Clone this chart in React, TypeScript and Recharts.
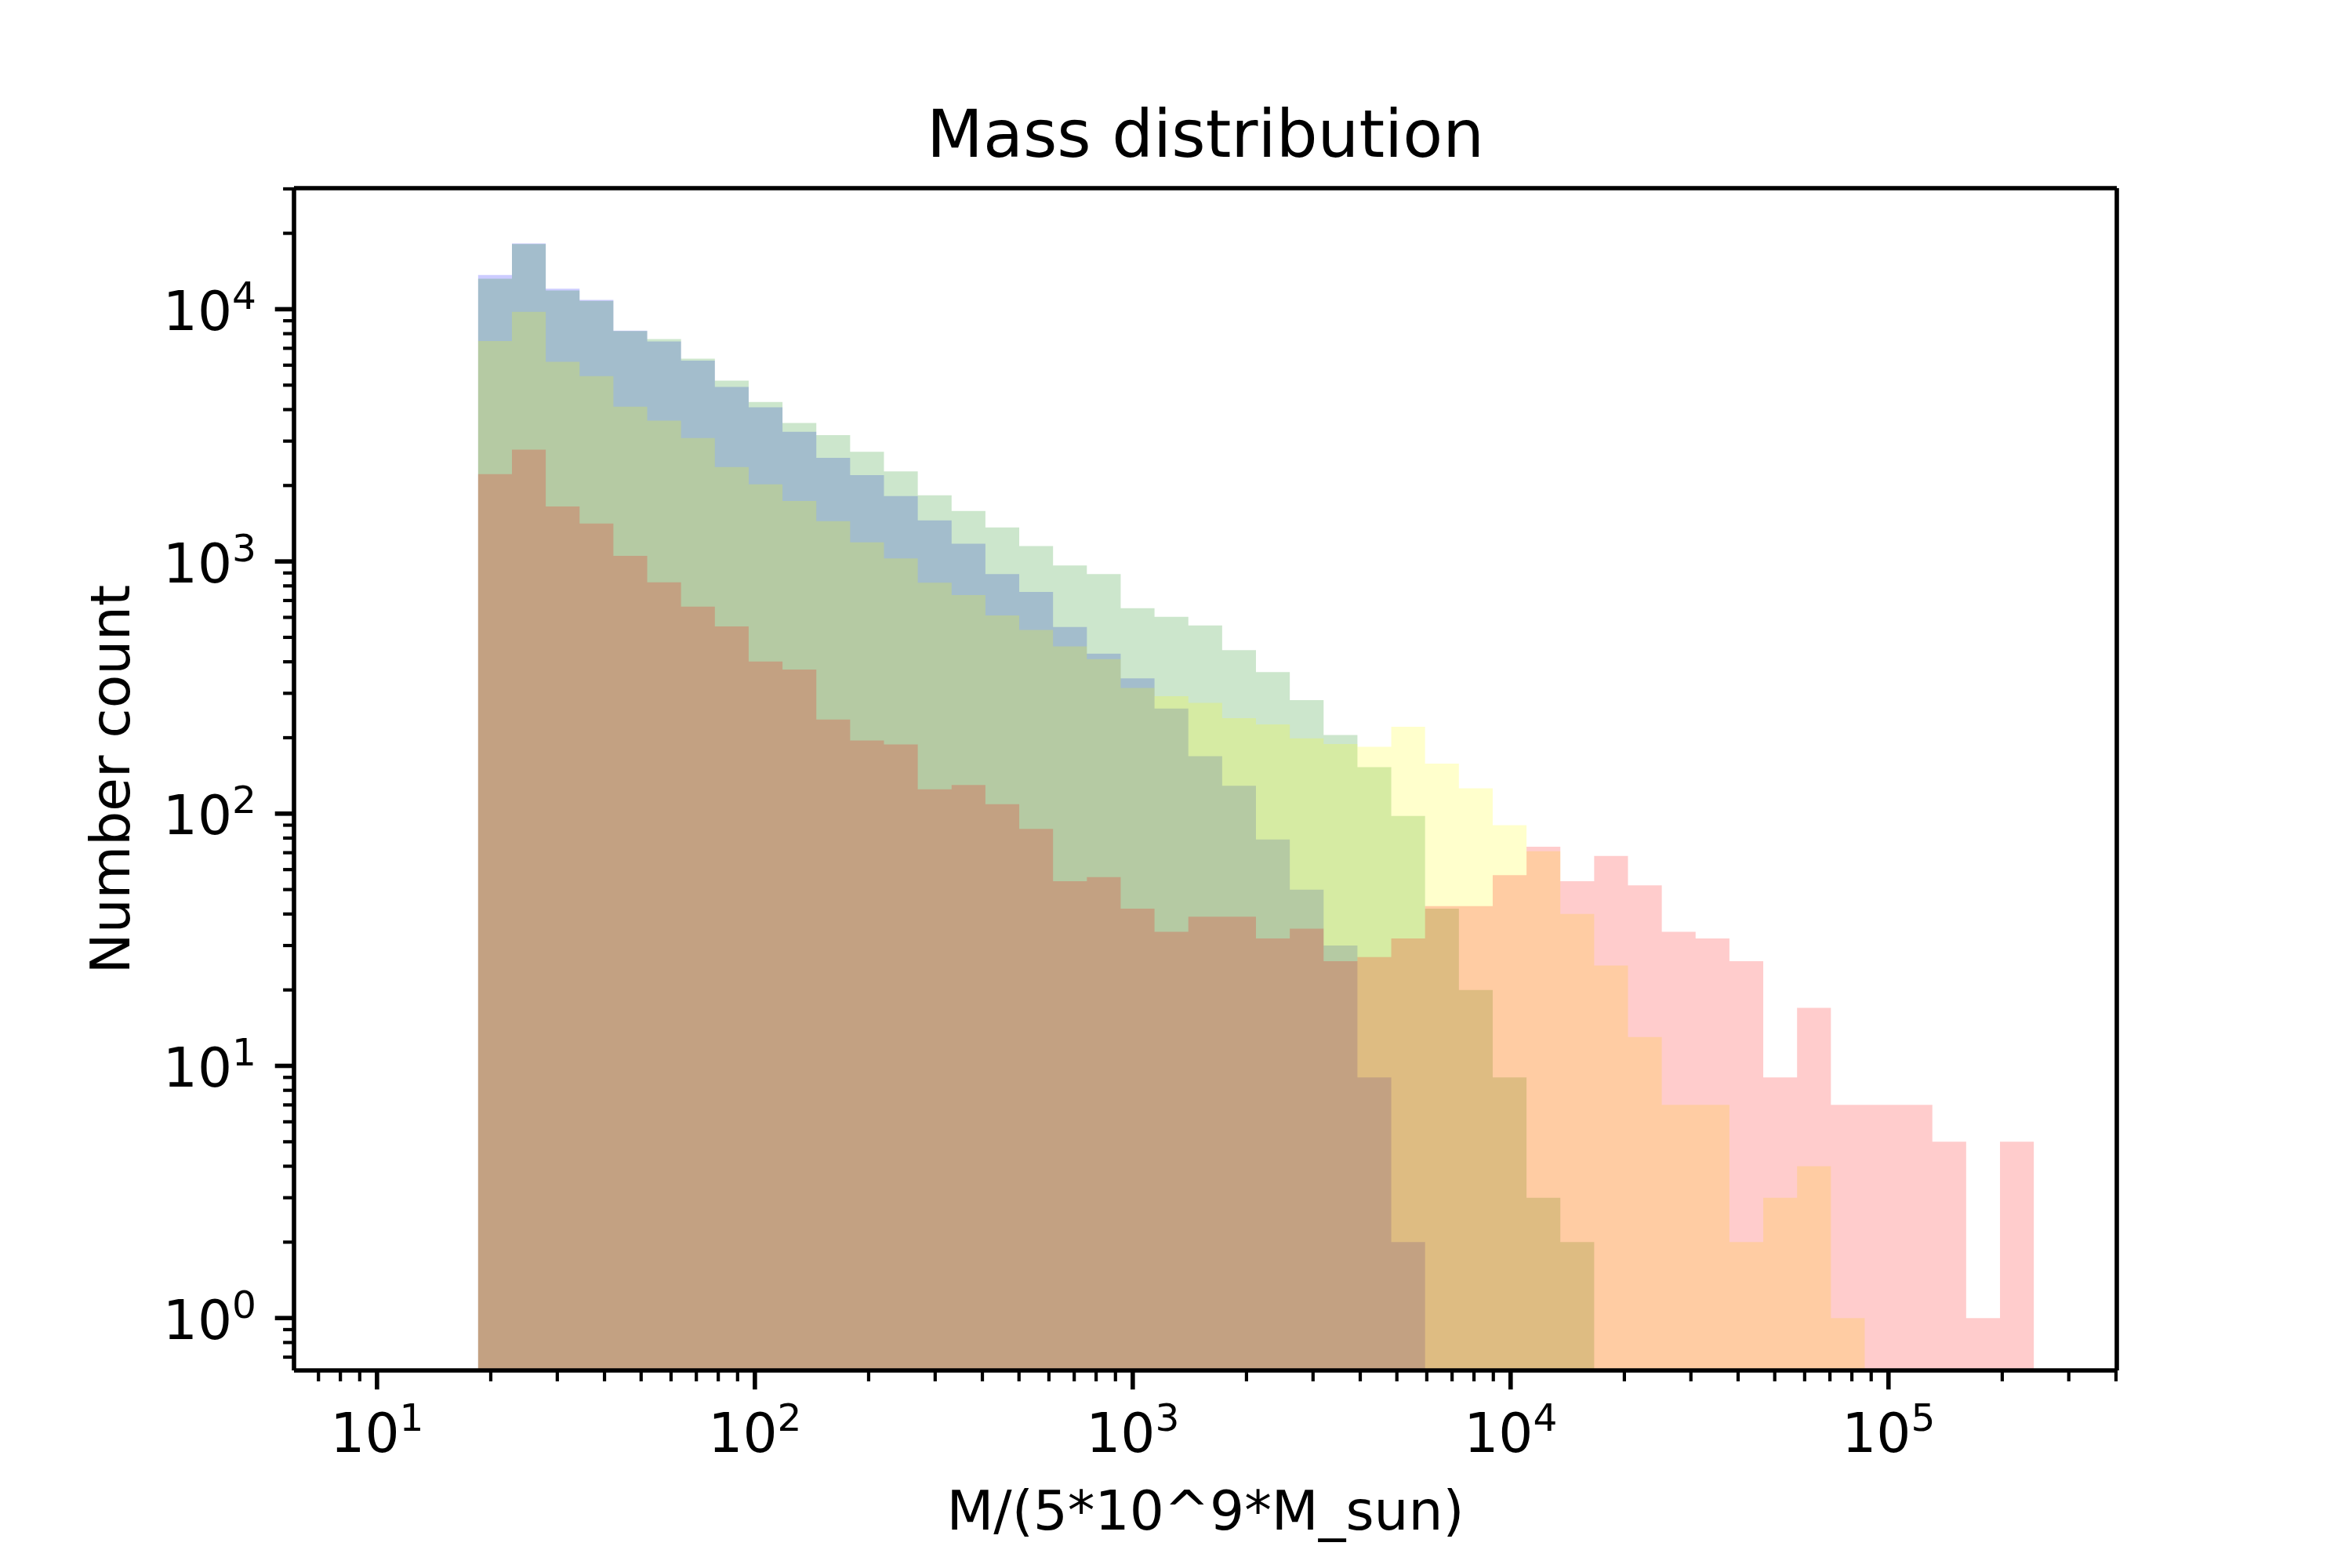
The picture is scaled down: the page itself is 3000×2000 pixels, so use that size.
import { ComposedChart, Area, XAxis, YAxis, ReferenceLine } from "recharts";

// histogram bins are evenly spaced in log10(M)
const BIN_LOG_START = 1.2676;
const BIN_LOG_WIDTH = 0.0895;

// counts per bin (46 bins)
const BLUE = [
  13680, 18240, 12050, 10900, 8230, 7450, 6250, 4920, 4083, 3266, 2576, 2198,
  1816, 1455, 1175, 891, 757, 550, 431, 344, 261, 169, 129, 79, 50, 30, 9, 2,
  0, 0, 0, 0, 0, 0, 0, 0, 0, 0, 0, 0, 0, 0, 0, 0, 0, 0,
];
const GREEN = [
  13210, 18150, 11860, 10790, 8200, 7620, 6370, 5212, 4285, 3540, 3170, 2723,
  2275, 1828, 1585, 1365, 1151, 964, 891, 652, 603, 557, 445, 364, 282, 205,
  153, 98, 42, 20, 9, 3, 2, 0, 0, 0, 0, 0, 0, 0, 0, 0, 0, 0, 0, 0,
];
const YELLOW = [
  7480, 9770, 6190, 5430, 4110, 3614, 3083, 2366, 2023, 1738, 1445, 1191, 1028,
  824, 736, 611, 535, 460, 410, 315, 292, 275, 239, 226, 199, 189, 184, 221,
  158, 126, 90, 71, 40, 25, 13, 7, 7, 2, 3, 4, 1, 0, 0, 0, 0, 0,
];
const RED = [
  2218, 2773, 1652, 1413, 1052, 826, 662, 553, 401, 373, 236, 195, 188, 125,
  130, 109, 87, 54, 56, 42, 34, 39, 39, 32, 35, 26, 27, 32, 43, 43, 57, 74, 54,
  68, 52, 34, 32, 26, 9, 17, 7, 7, 7, 5, 1, 5,
];

const SERIES = [
  { key: "blue", color: "#0000ff", counts: BLUE },
  { key: "green", color: "#008000", counts: GREEN },
  { key: "yellow", color: "#ffff00", counts: YELLOW },
  { key: "red", color: "#ff0000", counts: RED },
];

const X_DOMAIN = [6.03, 4.02e5];
const Y_DOMAIN = [0.62, 30200];

const FONT = "DejaVu Sans";
const TITLE = "Mass distribution";
const X_LABEL = "M/(5*10^9*M_sun)";
const Y_LABEL = "Number count";

// log ticks: 1..9 times each power of ten inside the domain
const logTicks = ([lo, hi]: number[]) => {
  const out: number[] = [];
  for (let e = -2; e <= 7; e++) {
    for (let m = 1; m <= 9; m++) {
      const v = m * 10 ** e;
      if (v >= lo && v <= hi) out.push(v);
    }
  }
  return out;
};

const edges = Array.from(
  { length: BLUE.length + 1 },
  (_, i) => 10 ** (BIN_LOG_START + i * BIN_LOG_WIDTH)
);

// step points at bin edges; the last edge closes the final bar
const rows = edges.map((x, i) => {
  const row: Record<string, number | null> = { x };
  SERIES.forEach(({ key, counts }) => {
    const v = counts[i] ?? 0;
    const prev = i > 0 ? counts[i - 1] : 0;
    row[key] = v > 0 ? v : prev > 0 ? prev : null;
  });
  return row;
});

const isMajor = (v: number) => {
  const l = Math.log10(v);
  return Math.abs(l - Math.round(l)) < 1e-9;
};

const Power = ({ exp }: { exp: number }) => (
  <>
    10
    <tspan dy={-27} fontSize={48.6}>
      {exp}
    </tspan>
  </>
);

const XTick = ({ x, y, payload }: any) => {
  const v = payload.value;
  const major = isMajor(v);
  return (
    <g>
      <line
        x1={x}
        x2={x}
        y1={y}
        y2={y + (major ? 24.3 : 13.9)}
        stroke="#000"
        strokeWidth={major ? 5.6 : 4.2}
      />
      {major && (
        <text
          x={x}
          y={y + 104}
          textAnchor="middle"
          fontFamily={FONT}
          fontSize={69.4}
          fill="#000"
        >
          <Power exp={Math.round(Math.log10(v))} />
        </text>
      )}
    </g>
  );
};

const YTick = ({ x, y, payload }: any) => {
  const v = payload.value;
  const major = isMajor(v);
  return (
    <g>
      <line
        x1={x}
        x2={x - (major ? 24.3 : 13.9)}
        y1={y}
        y2={y}
        stroke="#000"
        strokeWidth={major ? 5.6 : 4.2}
      />
      {major && (
        <text
          x={x - 48}
          y={y + 26.5}
          textAnchor="end"
          fontFamily={FONT}
          fontSize={69.4}
          fill="#000"
        >
          <Power exp={Math.round(Math.log10(v))} />
        </text>
      )}
    </g>
  );
};

const spine = { stroke: "#000", strokeWidth: 5.6 };

const App = () => {
  return (
    <div
      style={{
        position: "absolute",
        left: 0,
        top: 0,
        width: 3000,
        height: 2000,
        background: "#fff",
      }}
    >
      <ComposedChart
        width={3000}
        height={2000}
        data={rows}
        margin={{ top: 240, right: 300, bottom: 0, left: 0 }}
      >
        {SERIES.map((s) => (
          <Area
            key={s.key}
            dataKey={s.key}
            type="stepAfter"
            fill={s.color}
            fillOpacity={0.2}
            stroke="none"
            baseValue="dataMin"
            dot={false}
            activeDot={false}
            isAnimationActive={false}
          />
        ))}
        <XAxis
          dataKey="x"
          type="number"
          scale="log"
          domain={X_DOMAIN}
          allowDataOverflow
          ticks={logTicks(X_DOMAIN)}
          interval={0}
          height={252}
          tickSize={0}
          tickMargin={0}
          tickLine={false}
          axisLine={spine}
          tick={<XTick />}
        />
        <YAxis
          type="number"
          scale="log"
          domain={Y_DOMAIN}
          allowDataOverflow
          ticks={logTicks(Y_DOMAIN)}
          interval={0}
          width={375}
          tickSize={0}
          tickMargin={0}
          tickLine={false}
          axisLine={spine}
          tick={<YTick />}
        />
        {/* top and right spines */}
        <ReferenceLine y={Y_DOMAIN[1]} ifOverflow="visible" {...spine} />
        <ReferenceLine x={X_DOMAIN[1]} ifOverflow="visible" {...spine} />
      </ComposedChart>
      <svg
        width={3000}
        height={2000}
        style={{ position: "absolute", left: 0, top: 0, pointerEvents: "none" }}
      >
        <text x={1537.5} y={200} textAnchor="middle" fontFamily={FONT} fontSize={83.3}>
          {TITLE}
        </text>
        <text x={1537.5} y={1951} textAnchor="middle" fontFamily={FONT} fontSize={69.4}>
          {X_LABEL}
        </text>
        <text
          x={165}
          y={994}
          transform="rotate(-90 165 994)"
          textAnchor="middle"
          fontFamily={FONT}
          fontSize={69.4}
        >
          {Y_LABEL}
        </text>
      </svg>
    </div>
  );
};

export default App;
